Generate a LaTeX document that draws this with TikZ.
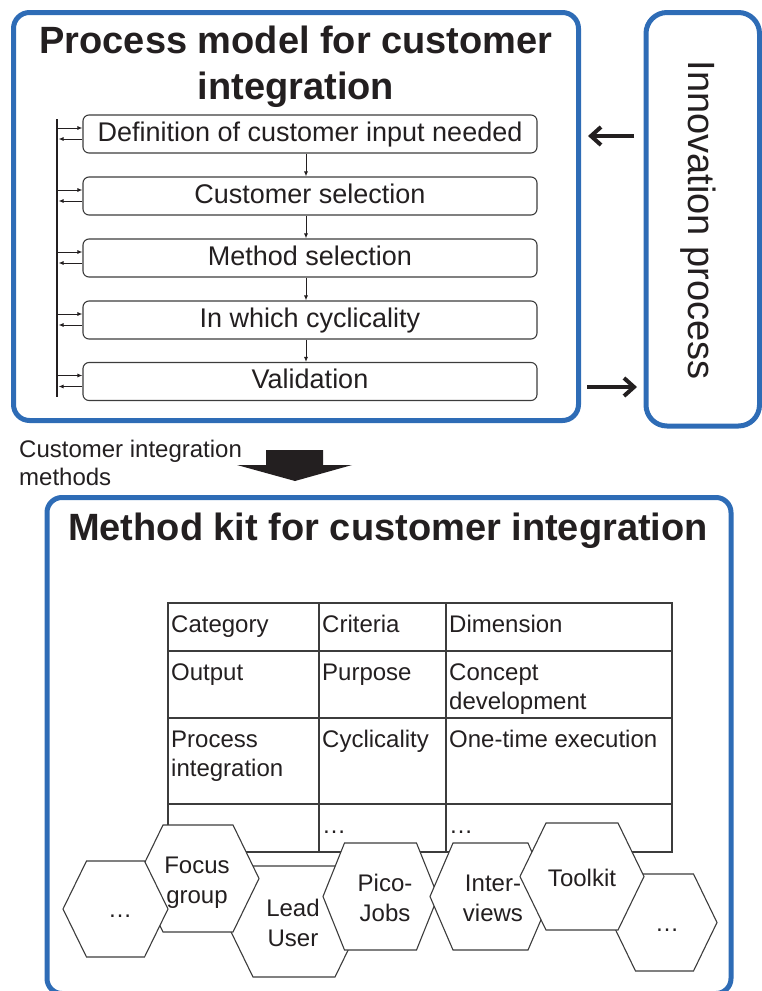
\documentclass[tikz,border=0pt]{standalone}
\usepackage{fontspec}
\setmainfont{Liberation Sans}
\usetikzlibrary{arrows.meta,calc}
\definecolor{frameblue}{RGB}{46,108,182}
\definecolor{ink}{RGB}{35,31,32}
\definecolor{linegray}{RGB}{60,60,60}
% name, cx, cy, a (half width), c (half top edge), b (half height), label x, label y, text
\newcommand{\hexcell}[9]{%
  \draw[hexline] (#2-#4,#3) -- (#2-#5,#3-#6) -- (#2+#5,#3-#6) -- (#2+#4,#3)
    -- (#2+#5,#3+#6) -- (#2-#5,#3+#6) -- cycle;
  \node[hexlabel] (#1) at (#7,#8) {#9};}
\begin{document}
\begin{tikzpicture}[x=1pt,y=-1pt,
  frame/.style={draw=frameblue, line width=5pt, inner sep=0pt},
  stepbox/.style={draw=linegray, line width=1.1pt, rounded corners=6pt,
    minimum width=454pt, minimum height=38pt, inner sep=0pt,
    font=\fontsize{27}{32}\selectfont, text height=19pt, text depth=5pt, text=ink},
  smallarrow/.style={draw=ink, line width=0.9pt, -{Latex[length=5pt,width=4pt]}},
  bigarr/.style={draw=ink, line width=4pt, -{Straight Barb[length=10pt,width=18pt]}},
  tabline/.style={draw=linegray, line width=1.4pt},
  cell/.style={anchor=north west, inner sep=0pt, align=left,
    font=\fontsize{24}{29}\selectfont, text=ink},
  hexline/.style={draw=linegray, line width=1.1pt, fill=white},
  hexlabel/.style={align=center, inner sep=0pt, font=\fontsize{24}{30}\selectfont, text=ink},
  title/.style={inner sep=0pt, align=center, font=\fontsize{38}{46}\selectfont\bfseries, text=ink}]
\useasboundingbox (0,0) rectangle (762,991);

% ---------- frames ----------
\node[frame, rounded corners=16pt, minimum width=565pt, minimum height=408pt] (pm) at (296,216.5) {};
\node[frame, rounded corners=21pt, minimum width=113.5pt, minimum height=413.5pt] (inno) at (702.75,219.25) {};
\node[frame, rounded corners=15pt, minimum width=684pt, minimum height=496pt] (mk) at (389,745.5) {};

% ---------- titles ----------
\node[title] (pmtitle) at (296,67.4) {\strut Process model for customer\\\strut integration};
\node[title, anchor=base] (mktitle) at (388,540.5) {Method kit for customer integration};
\node[inner sep=0pt, rotate=-90, anchor=base, font=\fontsize{38}{46}\selectfont, text=ink] (innotext) at (688,220) {Innovation process};

% ---------- process steps ----------
\node[stepbox] (s1) at (310,134) {Definition of customer input needed};
\node[stepbox] (s2) at (310,196) {Customer selection};
\node[stepbox] (s3) at (310,258) {Method selection};
\node[stepbox] (s4) at (310,320) {In which cyclicality};
\node[stepbox] (s5) at (310,381.5) {Validation};

\coordinate (spT) at (57,119);
\coordinate (spB) at (57,397);
\draw[draw=ink, line width=2.6pt] (spT) -- (spB);

\foreach \i in {1,...,5}{
  \draw[smallarrow] ($(spT |- s\i.west)+(0,-6)$) -- ($(s\i.west)+(0,-6)$);
  \draw[smallarrow] ($(s\i.west)+(0,5)$) -- ($(spT |- s\i.west)+(1.5,5)$);
}
\foreach \a/\b in {s1/s2,s2/s3,s3/s4,s4/s5}{
  \draw[smallarrow] ([xshift=-4pt]\a.south) -- ([xshift=-4pt]\b.north);
}

% ---------- arrows between process model and innovation process ----------
\coordinate (ar1s) at (634,136);
\coordinate (ar1e) at (588,136);
\coordinate (ar2s) at (587,387);
\coordinate (ar2e) at (637,387);
\draw[bigarr] (ar1s) -- (ar1e);
\draw[bigarr] (ar2s) -- (ar2e);

% ---------- caption and block arrow ----------
\node[anchor=north west, inner sep=0pt, align=left, font=\fontsize{24}{28}\selectfont, text=ink] (cap) at (19,438)
  {\strut Customer integration\\\strut methods};
\fill[ink] (266,450) -- (323,450) -- (323,465) -- (352,465) -- (295,481) -- (237,465) -- (266,465) -- cycle;

% ---------- table ----------
\draw[tabline] (168,603) rectangle (672,852);
\foreach \yy in {651,718,804} { \draw[tabline] (168,\yy) -- (672,\yy); }
\foreach \xx in {319,446} { \draw[tabline] (\xx,603) -- (\xx,852); }

\node[cell] (c11) at (171,611.7) {\strut Category};
\node[cell] (c12) at (322,611.7) {\strut Criteria};
\node[cell] (c13) at (449,611.7) {\strut Dimension};
\node[cell] (c21) at (171,659.7) {\strut Output};
\node[cell] (c22) at (322,659.7) {\strut Purpose};
\node[cell] (c23) at (449,659.7) {\strut Concept\\\strut development};
\node[cell] (c31) at (171,726.7) {\strut Process\\\strut integration};
\node[cell] (c32) at (322,726.7) {\strut Cyclicality};
\node[cell] (c33) at (449,726.7) {\strut One-time execution};
\node[cell] (c42) at (322,812.7) {\strut …};
\node[cell] (c43) at (449,812.7) {\strut …};

% ---------- hexagons (drawing order = stacking) ----------
\hexcell{hlead}{294}{921.5}{68}{41}{55.5}{293}{925}{\strut Lead\\\strut User}
\hexcell{hfocus}{198}{878.5}{61}{35}{53.5}{197}{882}{\strut Focus\\\strut group}
\hexcell{hdots}{115.5}{909}{52.5}{29}{48}{120}{911}{\strut …}
\hexcell{hpico}{380.5}{896.5}{57.5}{36}{53.5}{385}{900}{\strut Pico-\\\strut Jobs}
\hexcell{hinter}{490.5}{896.5}{60.5}{37.5}{53.5}{493}{900}{\strut Inter-\\\strut views}
\hexcell{hdotsb}{664.5}{922.5}{52.5}{29}{48.5}{667}{925}{\strut …}
\hexcell{htool}{582}{876.5}{62}{36}{53.5}{582}{880}{\strut Toolkit}
\end{tikzpicture}
\end{document}
